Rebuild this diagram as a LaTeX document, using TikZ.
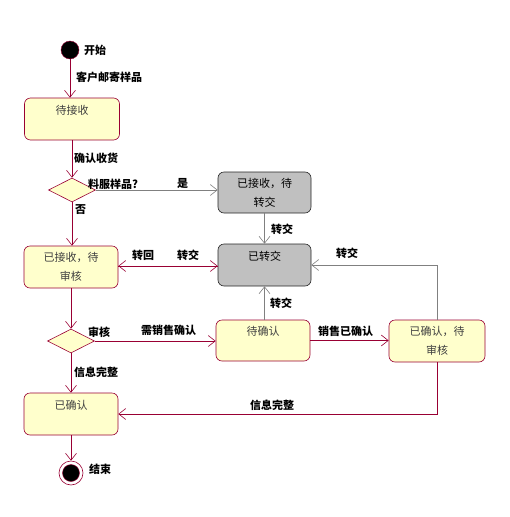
\documentclass[tikz,border=0pt]{standalone}
\usepackage{fontspec}
\setmainfont{Noto Sans CJK SC}
\usetikzlibrary{arrows.meta,shapes.geometric}
\definecolor{dred}{HTML}{990033}
\definecolor{yfill}{HTML}{FFFFCC}
\definecolor{gfill}{HTML}{C0C0C0}
\definecolor{gline}{HTML}{808080}
\definecolor{txtgray}{HTML}{404040}
\begin{document}
\begin{tikzpicture}[x=1pt,y=-1pt,
  state/.style={draw=dred, fill=yfill, rounded corners=6pt, minimum width=95pt, minimum height=42pt,
    align=center, font=\fontsize{11}{19}\selectfont, text=txtgray, inner sep=0pt, line width=0.6pt},
  gstate/.style={state, draw=black!85, fill=gfill, text=black},
  choice/.style={diamond, draw=dred, fill=yfill, minimum width=47pt, minimum height=24pt, inner sep=0pt, line width=0.6pt},
  lbl/.style={font=\bfseries\fontsize{11}{13}\selectfont, inner sep=0pt, anchor=west},
  tr/.style={draw=dred, line width=0.6pt, -{Straight Barb[length=7pt,width=11pt]}},
  gtr/.style={tr, draw=gline}]
\useasboundingbox (0,0) rectangle (510,517);
\node[circle, fill=black, draw=dred, minimum size=18pt, inner sep=0pt] (start) at (70,50) {};
\node[state] (s1) at (72,119) {待接收\\~};
\node[choice] (d1) at (72,190) {};
\node[gstate, minimum width=93pt, minimum height=41pt] (g1) at (264.5,192.5) {已接收，待\\转交};
\node[gstate, minimum width=93pt] (g2) at (264.5,265) {已转交\\~};
\node[state, minimum width=94pt] (s2) at (71,267) {已接收，待\\审核};
\node[choice] (d2) at (71,341) {};
\node[state, minimum width=94pt, minimum height=41pt] (s3) at (263,340.5) {待确认\\~};
\node[state, minimum width=96pt] (s4) at (437,341) {已确认，待\\审核};
\node[state, minimum width=94pt] (s5) at (71,414) {已确认\\~};
\node[circle, draw=dred, fill=white, minimum size=24pt, inner sep=0pt, line width=0.6pt] (end) at (71,473) {};
\node[circle, draw=dred, fill=black, minimum size=17pt, inner sep=0pt] (endin) at (end) {};

\draw[tr] (start.south) -- (start.south |- s1.north);
\draw[tr] (s1.south -| d1.north) -- (d1.north);
\draw[gtr] (d1.east) -- (d1.east -| g1.west);
\draw[gtr] (g1.south) -- (g2.north);
\draw[tr] (d1.south) -- (d1.south |- s2.north);
\draw[tr] (s2.east |- 0,266) -- (g2.west |- 0,266);
\draw[tr] (g2.west |- 0,266) -- (s2.east |- 0,266);
\draw[tr] (s2.south) -- (d2.north);
\draw[tr] (d2.east) -- (d2.east -| s3.west);
\draw[gtr] (s3.north -| g2.south) -- (g2.south);
\draw[tr] (s3.east) -- (s3.east -| s4.west);
\draw[gtr] (s4.north) |- (g2.east);
\draw[tr] (s4.south) |- (s5.east);
\draw[tr] (d2.south) -- (s5.north);
\draw[tr] (s5.south) -- (end.north);

\node[lbl] (l1) at (84,50) {开始};
\node[lbl] (l2) at (76,77) {客户邮寄样品};
\node[lbl] (l3) at (74,158) {确认收货};
\node[lbl] (l4) at (88,184) {料服样品?};
\node[lbl] (l5) at (177,183) {是};
\node[lbl] (l6) at (75,210) {否};
\node[lbl] (l7) at (271,229) {转交};
\node[lbl] (l8) at (132,255) {转回};
\node[lbl] (l9) at (177,255) {转交};
\node[lbl] (l10) at (88,332) {审核};
\node[lbl] (l11) at (141,330) {需销售确认};
\node[lbl] (l12) at (74,372) {信息完整};
\node[lbl] (l13) at (270,303) {转交};
\node[lbl] (l14) at (318,331) {销售已确认};
\node[lbl] (l15) at (336,253) {转交};
\node[lbl] (l16) at (250,405) {信息完整};
\node[lbl] (l17) at (89,469) {结束};
\end{tikzpicture}
\end{document}
